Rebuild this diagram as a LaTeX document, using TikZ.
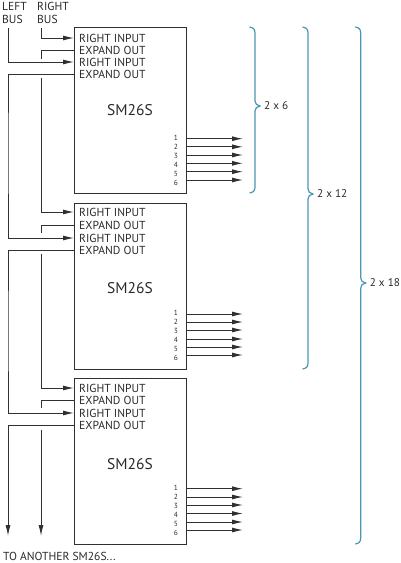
\documentclass[tikz,border=0pt]{standalone}
\usepackage{fontspec}
\setmainfont{PT Sans}
\usetikzlibrary{arrows.meta,calc}
\definecolor{wirecol}{HTML}{303030}
\definecolor{bracecol}{HTML}{4A97B5}
\definecolor{txtcol}{HTML}{2A2A2A}
\tikzset{
  modbox/.style={draw=wirecol,line width=1pt,minimum width=112pt,minimum height=166pt,inner sep=0pt,anchor=north west},
  portlabel/.style={anchor=west,inner sep=0pt,font=\fontsize{11.6}{12}\selectfont,text=txtcol},
  buslabel/.style={anchor=west,inner sep=0pt,font=\fontsize{11.6}{12}\selectfont,text=txtcol},
  chiplabel/.style={inner sep=0pt,font=\fontsize{15.5}{16}\selectfont,text=txtcol},
  numlabel/.style={inner sep=0pt,font=\fontsize{7.4}{8}\selectfont,text=txtcol},
  bracelabel/.style={anchor=west,inner sep=0pt,font=\fontsize{11.2}{12}\selectfont,text=txtcol},
  wire/.style={draw=wirecol,line width=1pt},
  arrowwire/.style={wire,-{Latex[length=11pt,width=5pt]}},
  bracket/.style={draw=bracecol,line width=1.2pt}
}
\begin{document}
\begin{tikzpicture}[x=1pt,y=-1pt]
\useasboundingbox (0,0) rectangle (400,563);
% modules
\foreach \m/\top/\ra/\ea/\rb/\eb/\cy/\oa/\ob/\oc/\od/\oe/\of/\na in {
  1/27/38/50/62/74/110/138.7/146.8/155/163.3/171.7/180/137.7,
  2/203/212/225/238/250/288/314/322/330/339/347/355/313,
  3/378/388/400/413/425/464/488.7/497/505/513.5/522/530/488}{
  \node[modbox] (box\m) at (74,\top) {};
  \node[portlabel] (ria\m) at (79,\ra) {RIGHT INPUT};
  \node[portlabel] (eoa\m) at (79,\ea) {EXPAND OUT};
  \node[portlabel] (rib\m) at (79,\rb) {RIGHT INPUT};
  \node[portlabel] (eob\m) at (79,\eb) {EXPAND OUT};
  \node[chiplabel] (chip\m) at (130,\cy) {SM26S};
  \foreach \k/\oy in {1/\oa,2/\ob,3/\oc,4/\od,5/\oe,6/\of}{
    \pgfmathsetmacro{\ny}{\na+(\k-1)*9}
    \node[numlabel] (num\m\k) at (176,\ny) {\k};
    \coordinate (os\m\k) at (186,\oy);
    \coordinate (oe\m\k) at (243,\oy);
    \draw[arrowwire] (os\m\k) -- (oe\m\k);
  }
}
% bus labels
\node[buslabel] (leftbus) at (2,6) {LEFT};
\node[buslabel] (leftbusb) at (2,19) {BUS};
\node[buslabel] (rightbus) at (37,6) {RIGHT};
\node[buslabel] (rightbusb) at (37,19) {BUS};
\node[buslabel] (another) at (3,556) {TO ANOTHER SM26S...};
% free ends
\coordinate (ltop) at (8,28);
\coordinate (rtop) at (41,28);
\coordinate (gap1a) at (41,59);
\coordinate (gap1b) at (41,78);
\coordinate (gap2a) at (41,233);
\coordinate (gap2b) at (41,254);
\coordinate (gap3a) at (41,408);
\coordinate (gap3b) at (41,430);
\coordinate (lend) at (8,536);
\coordinate (rend) at (41,536);
% bus wiring
\draw[arrowwire] (rtop) |- (box1.west |- ria1);
\draw[wire] (box1.west |- eoa1) -| (gap1a);
\draw[arrowwire] (ltop) |- (box1.west |- rib1);
\draw[arrowwire] (box1.west |- eob1) -| (8,150) |- (box2.west |- rib2);
\draw[arrowwire] (gap1b) |- (box2.west |- ria2);
\draw[wire] (box2.west |- eoa2) -| (gap2a);
\draw[arrowwire] (box2.west |- eob2) -| (8,330) |- (box3.west |- rib3);
\draw[arrowwire] (gap2b) |- (box3.west |- ria3);
\draw[wire] (box3.west |- eoa3) -| (gap3a);
\draw[arrowwire] (box3.west |- eob3) -| (lend);
\draw[arrowwire] (gap3b) -- (rend);
% braces
\foreach \n/\x/\bot/\mid/\lab in {a/255/193/106/2 x 6,b/308/369/194/2 x 12,c/360.7/544/283/2 x 18}{
  \draw[bracket] (\x-5.5,27) .. controls (\x-2,27.5) and (\x,29) .. (\x,33)
    -- (\x,\mid-5) .. controls (\x,\mid-2) and (\x+2,\mid-0.7) .. (\x+5,\mid)
    .. controls (\x+2,\mid+0.7) and (\x,\mid+2) .. (\x,\mid+5)
    -- (\x,\bot-6) .. controls (\x,\bot-2) and (\x-2,\bot-0.5) .. (\x-5.5,\bot);
  \node[bracelabel] (lab\n) at (\x+9,\mid) {\lab};
}
\end{tikzpicture}
\end{document}
